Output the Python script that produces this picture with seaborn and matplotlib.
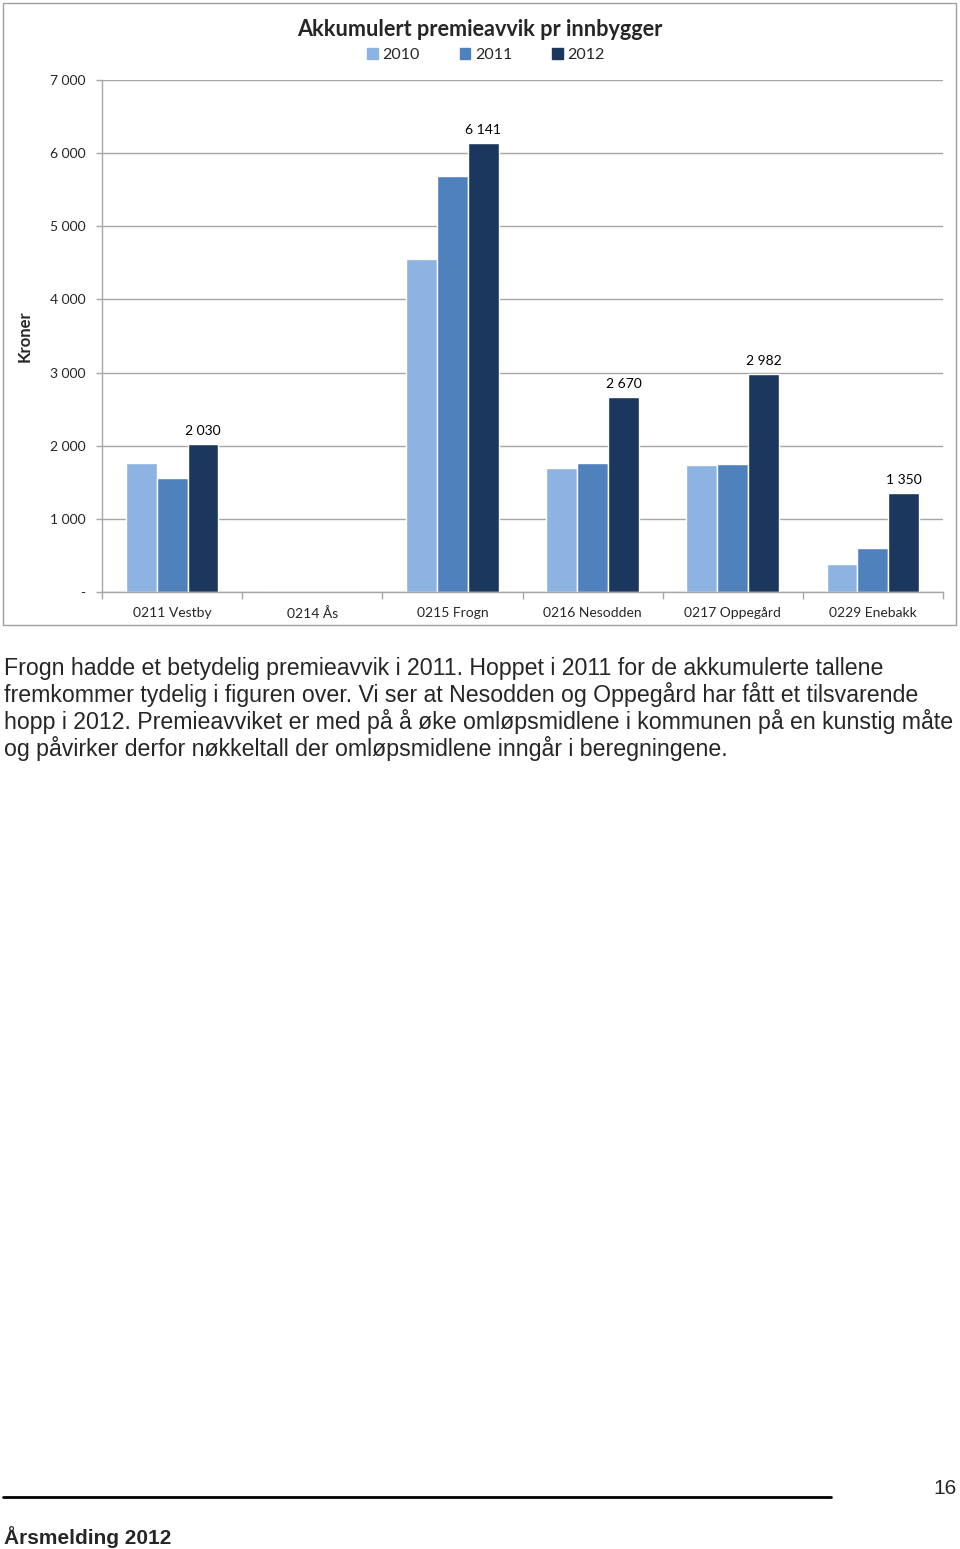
import matplotlib
matplotlib.use("Agg")
import matplotlib.pyplot as plt
import seaborn as sns
import pandas as pd
from matplotlib.patches import Rectangle
from matplotlib.lines import Line2D

categories = ["0211 Vestby", "0214 Ås", "0215 Frogn", "0216 Nesodden", "0217 Oppegård", "0229 Enebakk"]
years = ["2010", "2011", "2012"]
v2010 = [1760, 0, 4550, 1690, 1735, 385]
v2011 = [1555, 0, 5690, 1760, 1750, 600]
v2012 = [2030, 0, 6141, 2670, 2982, 1350]
labels2012 = ["2 030", "", "6 141", "2 670", "2 982", "1 350"]
yticks = [0, 1000, 2000, 3000, 4000, 5000, 6000, 7000]
yticklabels = ["-", "1 000", "2 000", "3 000", "4 000", "5 000", "6 000", "7 000"]
colors = ["#8DB3E2", "#4F81BD", "#1B375E"]

title = "Akkumulert premieavvik pr innbygger"
ylabel = "Kroner"
paragraph = ["Frogn hadde et betydelig premieavvik i 2011. Hoppet i 2011 for de akkumulerte tallene",
             "fremkommer tydelig i figuren over. Vi ser at Nesodden og Oppegård har fått et tilsvarende",
             "hopp i 2012. Premieavviket er med på å øke omløpsmidlene i kommunen på en kunstig måte",
             "og påvirker derfor nøkkeltall der omløpsmidlene inngår i beregningene."]
footer = "Årsmelding 2012"
page = "16"

df = pd.DataFrame({
    "kommune": categories * 3,
    "år": [y for y in years for _ in categories],
    "verdi": v2010 + v2011 + v2012,
})

sns.set_theme(style="white")
plt.rcParams["font.family"] = ["Lato", "DejaVu Sans"]

W, H = 960, 1549
fig = plt.figure(figsize=(W / 100, H / 100), dpi=100)
ax = fig.add_axes([102 / W, 1 - 592 / H, (943 - 102) / W, (592 - 80) / H])

sns.barplot(data=df, x="kommune", y="verdi", hue="år", palette=colors,
            width=0.66, saturation=1, ax=ax, legend=False, errorbar=None)

ax.bar_label(ax.containers[2], labels=labels2012, padding=5, fontsize=10, color="#000000")

ax.set_ylim(0, 7000)
ax.set_xlim(-0.5, len(categories) - 0.5)
ax.set_yticks(yticks)
ax.set_yticklabels(yticklabels, fontsize=10)
ax.set_xticks(range(len(categories)))
ax.set_xticklabels(categories, fontsize=10)
ax.set_xticks([i - 0.5 for i in range(len(categories) + 1)], minor=True)
ax.tick_params(axis="x", which="major", length=0, pad=10.5)
ax.tick_params(axis="x", which="minor", length=5, color="#A6A6A6", width=1, direction="out", bottom=True)
ax.tick_params(axis="y", length=4, color="#A6A6A6", width=1, direction="out", left=True, pad=8)
ax.grid(axis="y", color="#A6A6A6", linewidth=1)
ax.set_axisbelow(True)
for s in ["top", "right"]:
    ax.spines[s].set_visible(False)
for s in ["left", "bottom"]:
    ax.spines[s].set_color("#A6A6A6")
    ax.spines[s].set_linewidth(1)
ax.set_xlabel("")
ax.set_ylabel("")
ax.set_facecolor("white")

# chart border
fig.patches.append(Rectangle((3 / W, 1 - 625 / H), (956 - 3) / W, (625 - 3) / H,
                             transform=fig.transFigure, fill=False, edgecolor="#A0A0A0", linewidth=1))

fig.text(480 / W, 1 - 29.5 / H, title, ha="center", va="center", fontsize=15.6, fontweight="bold")
fig.text(25 / W, 1 - 336 / H, ylabel, ha="center", va="center", rotation=90, fontsize=12, fontweight="bold")

# legend
handles = [Rectangle((0, 0), 1, 1, color=c) for c in colors]
fig.legend(handles, years, loc="center", bbox_to_anchor=(486 / W, 1 - 55 / H), ncol=3,
           frameon=False, fontsize=11.5, handlelength=0.65, handleheight=0.65, handletextpad=0.3,
           columnspacing=2.5)

# paragraph
for i, line in enumerate(paragraph):
    fig.text(4 / W, 1 - (668 + i * 26.7) / H, line, ha="left", va="center", fontsize=16.7,
             family=["Liberation Sans", "DejaVu Sans"])

# footer
fig.add_artist(Line2D([3 / W, 831 / W], [1 - 1497 / H, 1 - 1497 / H], transform=fig.transFigure,
                      color="black", linewidth=2))
fig.text(945 / W, 1 - 1489 / H, page, ha="center", va="center", fontsize=15,
         family=["Liberation Sans", "DejaVu Sans"])
fig.text(4 / W, 1 - 1537 / H, footer, ha="left", va="center", fontsize=15, fontweight="bold",
         family=["Liberation Sans", "DejaVu Sans"])

fig.savefig("out.png", dpi=100, facecolor="white")
